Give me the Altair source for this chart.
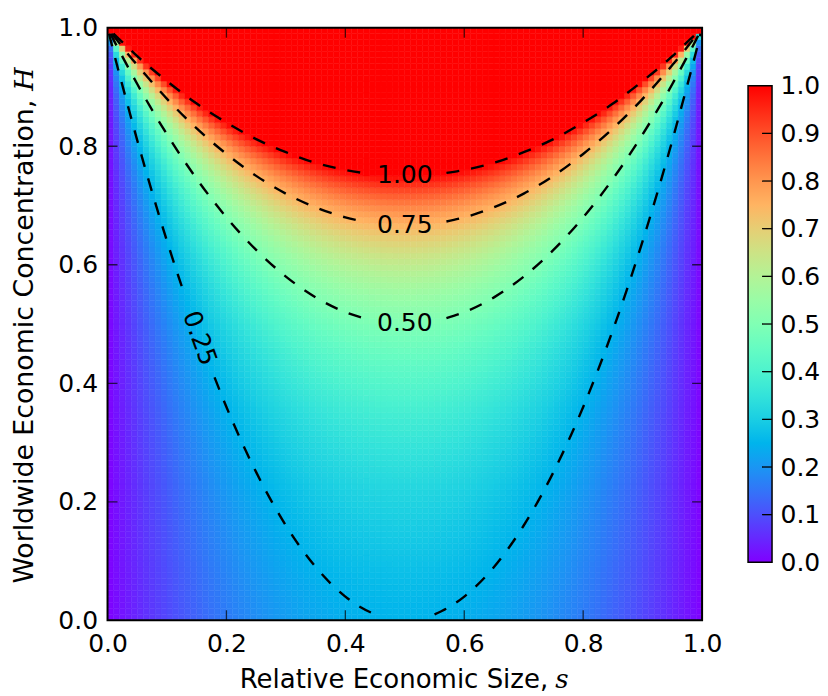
import altair as alt
import pandas as pd

# ---------------- data ----------------
# cell centres used for both axes (s and H)
grid_centers = [0.005, 0.015, 0.025, 0.035, 0.045, 0.055, 0.065, 0.075, 0.085, 0.095,
                0.105, 0.115, 0.125, 0.135, 0.145, 0.155, 0.165, 0.175, 0.185, 0.195,
                0.205, 0.215, 0.225, 0.235, 0.245, 0.255, 0.265, 0.275, 0.285, 0.295,
                0.305, 0.315, 0.325, 0.335, 0.345, 0.355, 0.365, 0.375, 0.385, 0.395,
                0.405, 0.415, 0.425, 0.435, 0.445, 0.455, 0.465, 0.475, 0.485, 0.495,
                0.505, 0.515, 0.525, 0.535, 0.545, 0.555, 0.565, 0.575, 0.585, 0.595,
                0.605, 0.615, 0.625, 0.635, 0.645, 0.655, 0.665, 0.675, 0.685, 0.695,
                0.705, 0.715, 0.725, 0.735, 0.745, 0.755, 0.765, 0.775, 0.785, 0.795,
                0.805, 0.815, 0.825, 0.835, 0.845, 0.855, 0.865, 0.875, 0.885, 0.895,
                0.905, 0.915, 0.925, 0.935, 0.945, 0.955, 0.965, 0.975, 0.985, 0.995]
# colour value along the bottom row (H ~ 0) for each s column
bottom_row = [0.0050, 0.0148, 0.0244, 0.0338, 0.0430, 0.0520, 0.0608, 0.0694, 0.0778, 0.0860,
              0.0940, 0.1018, 0.1094, 0.1168, 0.1240, 0.1310, 0.1378, 0.1444, 0.1508, 0.1570,
              0.1630, 0.1688, 0.1744, 0.1798, 0.1850, 0.1900, 0.1948, 0.1994, 0.2038, 0.2080,
              0.2120, 0.2158, 0.2194, 0.2228, 0.2260, 0.2290, 0.2318, 0.2344, 0.2368, 0.2390,
              0.2410, 0.2428, 0.2444, 0.2458, 0.2470, 0.2480, 0.2488, 0.2494, 0.2498, 0.2500,
              0.2500, 0.2498, 0.2494, 0.2488, 0.2480, 0.2470, 0.2458, 0.2444, 0.2428, 0.2410,
              0.2390, 0.2368, 0.2344, 0.2318, 0.2290, 0.2260, 0.2228, 0.2194, 0.2158, 0.2120,
              0.2080, 0.2038, 0.1994, 0.1948, 0.1900, 0.1850, 0.1798, 0.1744, 0.1688, 0.1630,
              0.1570, 0.1508, 0.1444, 0.1378, 0.1310, 0.1240, 0.1168, 0.1094, 0.1018, 0.0940,
              0.0860, 0.0778, 0.0694, 0.0608, 0.0520, 0.0430, 0.0338, 0.0244, 0.0148, 0.0050]
# growth of the value with H (each H row)
h_gain = [1.0050, 1.0152, 1.0256, 1.0363, 1.0471, 1.0582, 1.0695, 1.0811, 1.0929, 1.1050,
          1.1173, 1.1299, 1.1429, 1.1561, 1.1696, 1.1834, 1.1976, 1.2121, 1.2270, 1.2422,
          1.2579, 1.2739, 1.2903, 1.3072, 1.3245, 1.3423, 1.3605, 1.3793, 1.3986, 1.4184,
          1.4388, 1.4599, 1.4815, 1.5038, 1.5267, 1.5504, 1.5748, 1.6000, 1.6260, 1.6529,
          1.6807, 1.7094, 1.7391, 1.7699, 1.8018, 1.8349, 1.8692, 1.9048, 1.9417, 1.9802,
          2.0202, 2.0619, 2.1053, 2.1505, 2.1978, 2.2472, 2.2989, 2.3529, 2.4096, 2.4691,
          2.5316, 2.5974, 2.6667, 2.7397, 2.8169, 2.8986, 2.9851, 3.0769, 3.1746, 3.2787,
          3.3898, 3.5088, 3.6364, 3.7736, 3.9216, 4.0816, 4.2553, 4.4444, 4.6512, 4.8780,
          5.1282, 5.4054, 5.7143, 6.0606, 6.4516, 6.8966, 7.4074, 8.0000, 8.6957, 9.5238,
          10.526, 11.765, 13.333, 15.385, 18.182, 22.222, 28.571, 40.000, 66.667, 200.00]
cell_half = 0.005

# dashed contour lines (segments broken where labels sit)
c100_l_s = [0.01, 0.03, 0.05, 0.10, 0.15, 0.20, 0.25, 0.30, 0.35, 0.40, 0.43]
c100_l_h = [0.990, 0.971, 0.952, 0.910, 0.872, 0.840, 0.812, 0.790, 0.772, 0.760, 0.755]
c100_r_s = [0.57, 0.60, 0.65, 0.70, 0.75, 0.80, 0.85, 0.90, 0.95, 0.97, 0.99]
c100_r_h = [0.755, 0.760, 0.772, 0.790, 0.812, 0.840, 0.872, 0.910, 0.952, 0.971, 0.990]

c075_l_s = [0.0076, 0.01, 0.03, 0.05, 0.10, 0.15, 0.20, 0.25, 0.30, 0.35, 0.40, 0.43]
c075_l_h = [0.990, 0.987, 0.961, 0.937, 0.880, 0.830, 0.787, 0.750, 0.720, 0.697, 0.680, 0.673]
c075_r_s = [0.57, 0.60, 0.65, 0.70, 0.75, 0.80, 0.85, 0.90, 0.95, 0.97, 0.99, 0.9924]
c075_r_h = [0.673, 0.680, 0.697, 0.720, 0.750, 0.787, 0.830, 0.880, 0.937, 0.961, 0.987, 0.990]

c050_l_s = [0.005, 0.01, 0.03, 0.05, 0.10, 0.15, 0.20, 0.25, 0.30, 0.35, 0.40, 0.43]
c050_l_h = [0.990, 0.980, 0.942, 0.905, 0.820, 0.745, 0.680, 0.625, 0.580, 0.545, 0.520, 0.510]
c050_r_s = [0.57, 0.60, 0.65, 0.70, 0.75, 0.80, 0.85, 0.90, 0.95, 0.97, 0.99, 0.995]
c050_r_h = [0.510, 0.520, 0.545, 0.580, 0.625, 0.680, 0.745, 0.820, 0.905, 0.942, 0.980, 0.990]

c025_a_s = [0.0025, 0.005, 0.01, 0.03, 0.05, 0.075, 0.10, 0.13]
c025_a_h = [0.990, 0.980, 0.960, 0.884, 0.810, 0.7225, 0.640, 0.548]
c025_b_s = [0.18, 0.20, 0.25, 0.30, 0.35, 0.40, 0.425, 0.45]
c025_b_h = [0.410, 0.360, 0.250, 0.160, 0.090, 0.040, 0.0225, 0.010]
c025_r_s = [0.55, 0.575, 0.60, 0.65, 0.70, 0.75, 0.80, 0.85, 0.90, 0.925, 0.95, 0.97, 0.99, 0.995, 0.9975]
c025_r_h = [0.010, 0.0225, 0.040, 0.090, 0.160, 0.250, 0.360, 0.490, 0.640, 0.7225, 0.810, 0.884, 0.960, 0.980, 0.990]

label_text = ["1.00", "0.75", "0.50", "0.25"]
label_s = [0.500, 0.500, 0.500, 0.155]
label_h = [0.752, 0.667, 0.502, 0.476]
label_angle = [0, 0, 0, 70]

axis_ticks = [0.0, 0.2, 0.4, 0.6, 0.8, 1.0]
inner_ticks = [0.2, 0.4, 0.6, 0.8]
cbar_labels = [0.0, 0.1, 0.2, 0.3, 0.4, 0.5, 0.6, 0.7, 0.8, 0.9, 1.0]
cbar_ticks = [0.1, 0.2, 0.3, 0.4, 0.5, 0.6, 0.7, 0.8, 0.9]

# matplotlib "rainbow" colour map stops
cmap_stops = [0.0, 0.05, 0.1, 0.15, 0.2, 0.25, 0.3, 0.35, 0.4, 0.45, 0.5,
              0.55, 0.6, 0.65, 0.7, 0.75, 0.8, 0.85, 0.9, 0.95, 1.0]
cmap_colors = ["#8000ff", "#6628fe", "#4d4ffc", "#3374f8", "#1a96f3", "#00b4ec",
               "#1acee3", "#33e3da", "#4df3ce", "#66fcc2", "#80ffb4", "#99fca6",
               "#b3f396", "#cce385", "#e6ce74", "#ffb462", "#ff964f", "#ff743b",
               "#ff4f28", "#ff2814", "#ff0000"]

FONT = "DejaVu Sans"
FS = 25
W, H = 595, 593

# ---------------- tables ----------------
cells = []
for i, sc in enumerate(grid_centers):
    for j, hc in enumerate(grid_centers):
        cells.append({"s0": sc - cell_half, "s1": sc + cell_half,
                      "h0": hc - cell_half, "h1": hc + cell_half,
                      "v": bottom_row[i] * h_gain[j]})
cells = pd.DataFrame(cells)

segs = []
for name, ss, hh in [("c100l", c100_l_s, c100_l_h), ("c100r", c100_r_s, c100_r_h),
                     ("c075l", c075_l_s, c075_l_h), ("c075r", c075_r_s, c075_r_h),
                     ("c050l", c050_l_s, c050_l_h), ("c050r", c050_r_s, c050_r_h),
                     ("c025a", c025_a_s, c025_a_h), ("c025b", c025_b_s, c025_b_h),
                     ("c025r", c025_r_s, c025_r_h)]:
    for k, (a, b) in enumerate(zip(ss, hh)):
        segs.append({"seg": name, "k": k, "s": a, "H": b})
segs = pd.DataFrame(segs)

labels = pd.DataFrame({"t": label_text, "s": label_s, "H": label_h, "ang": label_angle})

ticks_v = pd.DataFrame({"s": inner_ticks * 2, "H": [0.0] * 4 + [1.0] * 4})
ticks_h = pd.DataFrame({"s": [0.0] * 4 + [1.0] * 4, "H": inner_ticks * 2})
frame = pd.DataFrame({"s0": [0.0], "s1": [1.0], "h0": [0.0], "h1": [1.0]})

xscale = alt.Scale(domain=[0, 1], nice=False, zero=False)
yscale = alt.Scale(domain=[0, 1], nice=False, zero=False)
cscale = alt.Scale(domain=cmap_stops, range=cmap_colors, clamp=True, interpolate="rgb")

common_axis = dict(format=".1f", labelFontSize=FS, labelFont=FONT, labelColor="black",
                   ticks=False, domain=False, grid=False, labelFlush=False)
xaxis = alt.Axis(values=axis_ticks, labelPadding=11, **common_axis)
yaxis = alt.Axis(values=axis_ticks, labelPadding=10, **common_axis)

heat = alt.Chart(cells).mark_rect(strokeWidth=0.5).encode(
    x=alt.X("s0:Q", scale=xscale, axis=xaxis, title=None),
    x2="s1:Q",
    y=alt.Y("h0:Q", scale=yscale, axis=yaxis, title=None),
    y2="h1:Q",
    fill=alt.Fill("v:Q", scale=cscale, legend=None),
    stroke=alt.Stroke("v:Q", scale=cscale, legend=None),
)

lines = alt.Chart(segs).mark_line(color="black", strokeWidth=2.4,
                                  strokeDash=[13, 12], interpolate="monotone").encode(
    x=alt.X("s:Q", title=None), y=alt.Y("H:Q", title=None),
    detail="seg:N", order="k:Q",
)

clabels = alt.Chart(labels).mark_text(font=FONT, fontSize=FS, color="black",
                                      align="center", baseline="middle").encode(
    x=alt.X("s:Q", title=None), y=alt.Y("H:Q", title=None),
    text="t:N", angle=alt.Angle("ang:Q", scale=None),
)

tv = alt.Chart(ticks_v).mark_tick(orient="vertical", size=20, thickness=1.3,
                                  color="black", clip=True).encode(
    x=alt.X("s:Q", title=None), y=alt.Y("H:Q", title=None))
th = alt.Chart(ticks_h).mark_tick(orient="horizontal", size=20, thickness=1.3,
                                  color="black", clip=True).encode(
    x=alt.X("s:Q", title=None), y=alt.Y("H:Q", title=None))

box = alt.Chart(frame).mark_rect(filled=False, stroke="black", strokeWidth=2).encode(
    x=alt.X("s0:Q", title=None), x2="s1:Q", y=alt.Y("h0:Q", title=None), y2="h1:Q")

XFS = 26
YFS = 26.8
xt1 = alt.Chart(pd.DataFrame({"t": ["Relative Economic Size,"]})).mark_text(
    font=FONT, fontSize=XFS, color="black", align="right", baseline="alphabetic").encode(
    text="t:N", x=alt.value(441), y=alt.value(661))
xt2 = alt.Chart(pd.DataFrame({"t": ["s"]})).mark_text(
    font="DejaVu Serif", fontStyle="italic", fontSize=XFS, color="black",
    align="left", baseline="alphabetic").encode(text="t:N", x=alt.value(448), y=alt.value(661))
yt1 = alt.Chart(pd.DataFrame({"t": ["Worldwide Economic Concentration,"]})).mark_text(
    font=FONT, fontSize=YFS, color="black", align="right", baseline="alphabetic",
    angle=270).encode(text="t:N", x=alt.value(-75), y=alt.value(72))
yt2 = alt.Chart(pd.DataFrame({"t": ["H"]})).mark_text(
    font="DejaVu Serif", fontStyle="italic", fontSize=YFS, color="black", align="left",
    baseline="alphabetic", angle=270).encode(text="t:N", x=alt.value(-75), y=alt.value(63))

main = alt.layer(heat, lines, clabels, tv, th, box, xt1, xt2, yt1, yt2).properties(
    width=W, height=H)

# ---------------- colour bar ----------------
grad = alt.LinearGradient(
    gradient="linear",
    stops=[alt.GradientStop(offset=o, color=c) for o, c in zip(cmap_stops, cmap_colors)],
    x1=0, x2=0, y1=1, y2=0)
cb_scale = alt.Scale(domain=[-0.1216, 1.1216], nice=False, zero=False)
cb_axis = alt.Axis(orient="right", values=cbar_labels, labelPadding=8, **common_axis)

cb_rect = alt.Chart(pd.DataFrame({"lo": [0.0], "hi": [1.0]})).mark_rect(
    fill=grad, stroke="black", strokeWidth=1.5).encode(
    y=alt.Y("lo:Q", scale=cb_scale, axis=cb_axis, title=None), y2="hi:Q",
    x=alt.value(0), x2=alt.value(24))
cb_ticks = alt.Chart(pd.DataFrame({"v": cbar_ticks})).mark_rule(
    color="black", strokeWidth=1.3).encode(
    y=alt.Y("v:Q", scale=cb_scale, title=None), x=alt.value(14), x2=alt.value(24))
cbar = alt.layer(cb_rect, cb_ticks).properties(width=24, height=H)

chart = alt.hconcat(main, cbar, spacing=25).properties(
    padding={"left": 3.6, "top": 7.5, "right": 0, "bottom": 0},
    background="white",
).configure_view(strokeOpacity=0)

chart.save("out.html", embed_options={"renderer": "svg", "actions": False})
